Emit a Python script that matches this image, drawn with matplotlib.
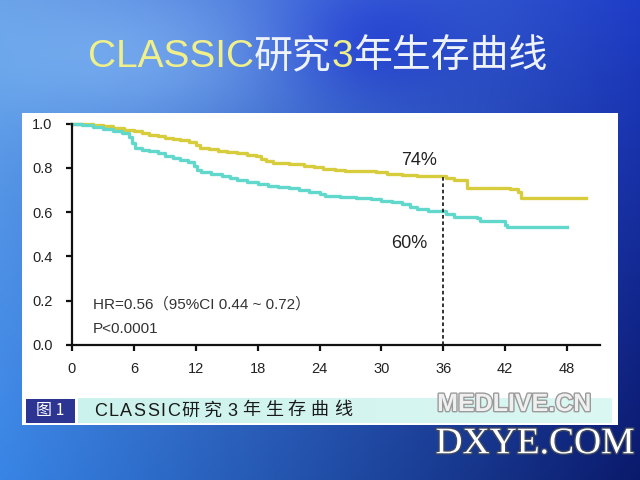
import numpy as np
import matplotlib
matplotlib.use('Agg')
import matplotlib.pyplot as plt
from matplotlib.patches import Rectangle
import matplotlib.patheffects as pe

plt.rcParams['font.family'] = ['Liberation Sans', 'Noto Sans CJK SC', 'DejaVu Sans']

# ---- data ----
surgery_chemo_t = [0, 2.0, 3.0, 4.0, 5.0, 6.0, 6.8, 7.5, 8.3, 9.0, 9.8, 10.5, 11.3, 12.0, 12.4,
                   13.3, 14.2, 15.0, 16.0, 17.0, 17.8, 18.3, 18.8, 19.5, 21.0, 22.5, 23.5, 24.3,
                   25.5, 26.5, 28.0, 29.5, 30.5, 32.0, 33.5, 35.0, 36.3, 37.0, 38.3, 42.5, 43.2,
                   43.5, 49.8]
surgery_chemo_s = [1.0, 0.995, 0.99, 0.98, 0.972, 0.965, 0.957, 0.95, 0.942, 0.935, 0.93, 0.925,
                   0.915, 0.905, 0.89, 0.885, 0.878, 0.872, 0.866, 0.86, 0.853, 0.84, 0.83, 0.82,
                   0.815, 0.81, 0.805, 0.795, 0.79, 0.787, 0.784, 0.78, 0.77, 0.767, 0.765, 0.762,
                   0.752, 0.745, 0.71, 0.706, 0.69, 0.665, 0.665]
surgery_t = [0, 1.0, 2.0, 3.0, 4.0, 4.8, 5.5, 5.8, 6.1, 6.8, 7.5, 8.3, 9.0, 9.8, 10.5, 11.2,
             11.8, 12.1, 12.5, 13.5, 14.5, 15.3, 16.0, 17.0, 18.0, 19.0, 20.0, 21.0, 22.0, 23.0,
             24.0, 24.5, 26.0, 27.5, 29.0, 30.0, 31.0, 32.0, 32.8, 33.5, 34.5, 35.5, 36.3, 37.0,
             39.3, 39.6, 42.0, 42.2, 48.0]
surgery_s = [1.0, 0.995, 0.985, 0.975, 0.965, 0.955, 0.94, 0.91, 0.89, 0.882, 0.875, 0.865,
             0.855, 0.845, 0.835, 0.825, 0.81, 0.79, 0.78, 0.772, 0.763, 0.755, 0.745, 0.737,
             0.727, 0.718, 0.712, 0.707, 0.70, 0.69, 0.68, 0.673, 0.67, 0.665, 0.66, 0.652,
             0.645, 0.637, 0.625, 0.612, 0.607, 0.603, 0.59, 0.58, 0.575, 0.56, 0.54, 0.533,
             0.533]
x_ticks = [0, 6, 12, 18, 24, 30, 36, 42, 48]
y_ticks = [0.0, 0.2, 0.4, 0.6, 0.8, 1.0]
mark_time = 36
mark_top = 0.762
label_top = "74%"
label_bottom = "60%"
hr_text = "HR=0.56（95%CI 0.44 ~ 0.72）"
p_text = "P<0.0001"
title_parts = [("CLASSIC", '#f0f08a'), ("研究", '#eef2fa'), ("3", '#f0f08a'),
               ("年生存曲线", '#eef2fa')]
caption = "CLASSIC研究3年生存曲线"

fig = plt.figure(figsize=(6.4, 4.8), dpi=100)

# ---- slide background ----
bg = fig.add_axes([0, 0, 1, 1], zorder=0)
H, W = 480, 640
yy, xx = np.mgrid[0:H, 0:W]
u = xx / (W - 1)
v = yy / (H - 1)
tl = np.array([0.40, 0.62, 0.90])
tr = np.array([0.12, 0.24, 0.78])
bl = np.array([0.22, 0.52, 0.90])
br = np.array([0.04, 0.10, 0.42])
img = ((1 - u)[..., None] * (1 - v)[..., None] * tl + u[..., None] * (1 - v)[..., None] * tr
       + (1 - u)[..., None] * v[..., None] * bl + u[..., None] * v[..., None] * br)
glow = np.exp(-(((xx - 150) / 160.0) ** 2 + ((yy - 60) / 70.0) ** 2))
img = img + glow[..., None] * np.array([0.12, 0.12, 0.06])
band = np.exp(-(((xx - 360) / 90.0) ** 2 + ((yy - 40) / 60.0) ** 2))
img = img - band[..., None] * np.array([0.08, 0.12, 0.0])
img = np.clip(img, 0, 1)
bg.imshow(img, extent=[0, 1, 0, 1], aspect='auto', origin='upper')
bg.set_xlim(0, 1)
bg.set_ylim(0, 1)
bg.axis('off')


def fx(px):
    return px / 640.0


def fy(py):
    return 1 - py / 480.0


bg.add_patch(Rectangle((fx(22), fy(425)), fx(618) - fx(22), fy(113) - fy(425),
                       facecolor='white', edgecolor='none', zorder=1))
band_img = np.ones((2, 200, 3))
tt = np.linspace(0, 1, 200)
c0 = np.array([0.80, 0.95, 0.93])
c1 = np.array([0.86, 0.97, 0.95])
band_img[:] = (1 - tt)[:, None] * c0 + tt[:, None] * c1
bg.imshow(band_img, extent=[fx(78), fx(612), fy(423), fy(398)], aspect='auto', zorder=2)
bg.add_patch(Rectangle((fx(26), fy(423)), fx(75) - fx(26), fy(399) - fy(423),
                       facecolor='#2c3592', edgecolor='none', zorder=3))
bg.text(fx(50), fy(411), "图 1", color='white', fontsize=11.5, ha='center', va='center',
        family=['Noto Sans CJK SC', 'DejaVu Sans'], zorder=4)
bg.text(fx(514), fy(404), "MEDLIVE.CN", color='#f0f0f0', fontsize=18, ha='center', va='center',
        family=['Liberation Sans'], fontweight='bold', zorder=4,
        path_effects=[pe.withStroke(linewidth=2, foreground='#9a9a9a')])
bg.text(fx(535), fy(444), "DXYE.COM", color='white', fontsize=27, ha='center', va='center',
        family=['Liberation Serif'], zorder=4,
        path_effects=[pe.withStroke(linewidth=2, foreground='#404a60')])

fig.canvas.draw()
renderer = fig.canvas.get_renderer()

# caption, drawn char by char with letter spacing
xpos = 94.0
for ch in caption:
    t = fig.text(fx(xpos), fy(411), ch, color='#1a1a1a', fontsize=13, ha='left', va='center',
                 family=['Liberation Sans', 'Noto Sans CJK SC'], zorder=5)
    if ord(ch) < 128:
        xpos += t.get_window_extent(renderer).width + 1.5
        if ch == '3':
            xpos += 3
    else:
        xpos += 23.0

# ---- title in two colours ----
texts = []
for s, c in title_parts:
    t = fig.text(0, fy(57), s, color=c, fontsize=28, ha='left', va='center',
                 family=['Liberation Sans', 'Noto Sans CJK SC'], zorder=5)
    texts.append(t)
widths = [t.get_window_extent(renderer).width for t in texts]
total = sum(widths)
x0 = 318 - total / 2
for t, w in zip(texts, widths):
    t.set_x(x0 / 640.0)
    x0 += w

# ---- survival chart ----
ax = fig.add_axes([fx(72), fy(345), fx(600) - fx(72), fy(123.5) - fy(345)], zorder=2)
ax.patch.set_alpha(0)
ax.step(surgery_chemo_t, surgery_chemo_s, where='post', color='#d6cc3c', lw=2.4,
        clip_on=False)
ax.step(surgery_t, surgery_s, where='post', color='#62d8cc', lw=2.4, clip_on=False)
ax.plot([mark_time, mark_time], [0, mark_top], color='#222222', lw=1.3,
        linestyle=(0, (2, 1.5)), clip_on=False)
ax.text(33.7, 0.835, label_top, fontsize=13, color='#222222', ha='center', va='center')
ax.text(32.7, 0.46, label_bottom, fontsize=13, color='#222222', ha='center', va='center')
ax.text(2.0, 0.182, hr_text, fontsize=11, color='#333333', ha='left', va='center',
        family=['Liberation Sans', 'Noto Sans CJK SC'])
ax.text(2.0, 0.072, p_text, fontsize=11, color='#333333', ha='left', va='center')

ax.set_xlim(0, 51.2)
ax.set_ylim(0, 1.0)
ax.set_xticks(x_ticks)
ax.set_yticks(y_ticks)
ax.set_yticklabels([f"{v:.1f}" for v in y_ticks])
for s in ['top', 'right']:
    ax.spines[s].set_visible(False)
for s in ['left', 'bottom']:
    ax.spines[s].set_linewidth(1.6)
    ax.spines[s].set_color('#111111')
ax.tick_params(direction='out', length=4, width=1.6, colors='#111111',
               labelsize=10.5, labelcolor='#222222')
ax.tick_params(axis='x', pad=8)
ax.tick_params(axis='y', pad=10)

fig.savefig('out.png', dpi=100)
